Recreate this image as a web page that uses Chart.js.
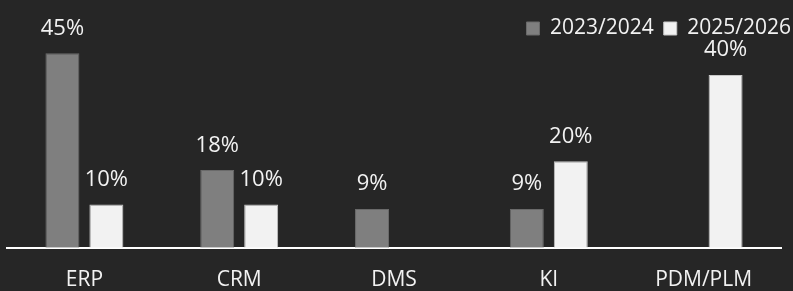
<!DOCTYPE html>
<html>
<head>
<meta charset="utf-8">
<script src="https://cdn.jsdelivr.net/npm/chart.js@4"></script>
<style>
html,body{margin:0;padding:0;background:#262626;}
#wrap{width:793px;height:291px;position:relative;}
</style>
</head>
<body>
<div id="wrap"><canvas id="c" width="793" height="291"></canvas></div>
<script>
const categories = ["ERP", "CRM", "DMS", "KI", "PDM/PLM"];
const seriesNames = ["2023/2024", "2025/2026"];
const values2023 = [45, 18, 9, 9, null];
const values2025 = [10, 10, null, 20, 40];

const FONT = "'Open Sans', 'Noto Sans', sans-serif";

const valueLabels = {
  id: 'valueLabels',
  afterDatasetsDraw(chart) {
    const ctx = chart.ctx;
    ctx.save();
    ctx.font = "22px " + FONT;
    ctx.fillStyle = '#f2f2f2';
    ctx.textAlign = 'center';
    ctx.textBaseline = 'alphabetic';
    chart.data.datasets.forEach((ds, i) => {
      const meta = chart.getDatasetMeta(i);
      meta.data.forEach((el, j) => {
        const v = ds.data[j];
        if (v === null || v === undefined) return;
        ctx.fillText(v + '%', el.x, el.y - 18.5);
      });
    });
    ctx.restore();
  }
};

new Chart(document.getElementById('c'), {
  type: 'bar',
  data: {
    labels: categories,
    datasets: [
      { label: seriesNames[0], data: values2023, backgroundColor: '#7f7f7f', borderColor: '#6a6a6a', borderWidth: 1 },
      { label: seriesNames[1], data: values2025, backgroundColor: '#f2f2f2', borderColor: '#c8c8c8', borderWidth: 1 }
    ]
  },
  options: {
    responsive: false,
    animation: false,
    devicePixelRatio: 1,
    layout: { padding: { left: 7, right: -8, top: 8, bottom: -21 } },
    datasets: { bar: { categoryPercentage: 0.568, barPercentage: 0.773 } },
    plugins: {
      legend: {
        position: 'top',
        align: 'end',
        labels: {
          color: '#f2f2f2',
          font: { family: FONT, size: 21 },
          boxWidth: 13,
          boxHeight: 13,
          padding: 10,
          useBorderRadius: false
        }
      },
      tooltip: { enabled: false }
    },
    scales: {
      x: {
        grid: { display: false, drawTicks: false },
        border: { display: true, color: '#ffffff', width: 2 },
        ticks: { color: '#f2f2f2', font: { family: FONT, size: 21 }, padding: 19.5 }
      },
      y: {
        display: true,
        position: 'right',
        min: 0,
        max: 46,
        grid: { display: false, drawTicks: false },
        border: { display: false },
        ticks: { display: false },
        afterFit(s) { s.width = 20; }
      }
    }
  },
  plugins: [valueLabels]
});
</script>
</body>
</html>
